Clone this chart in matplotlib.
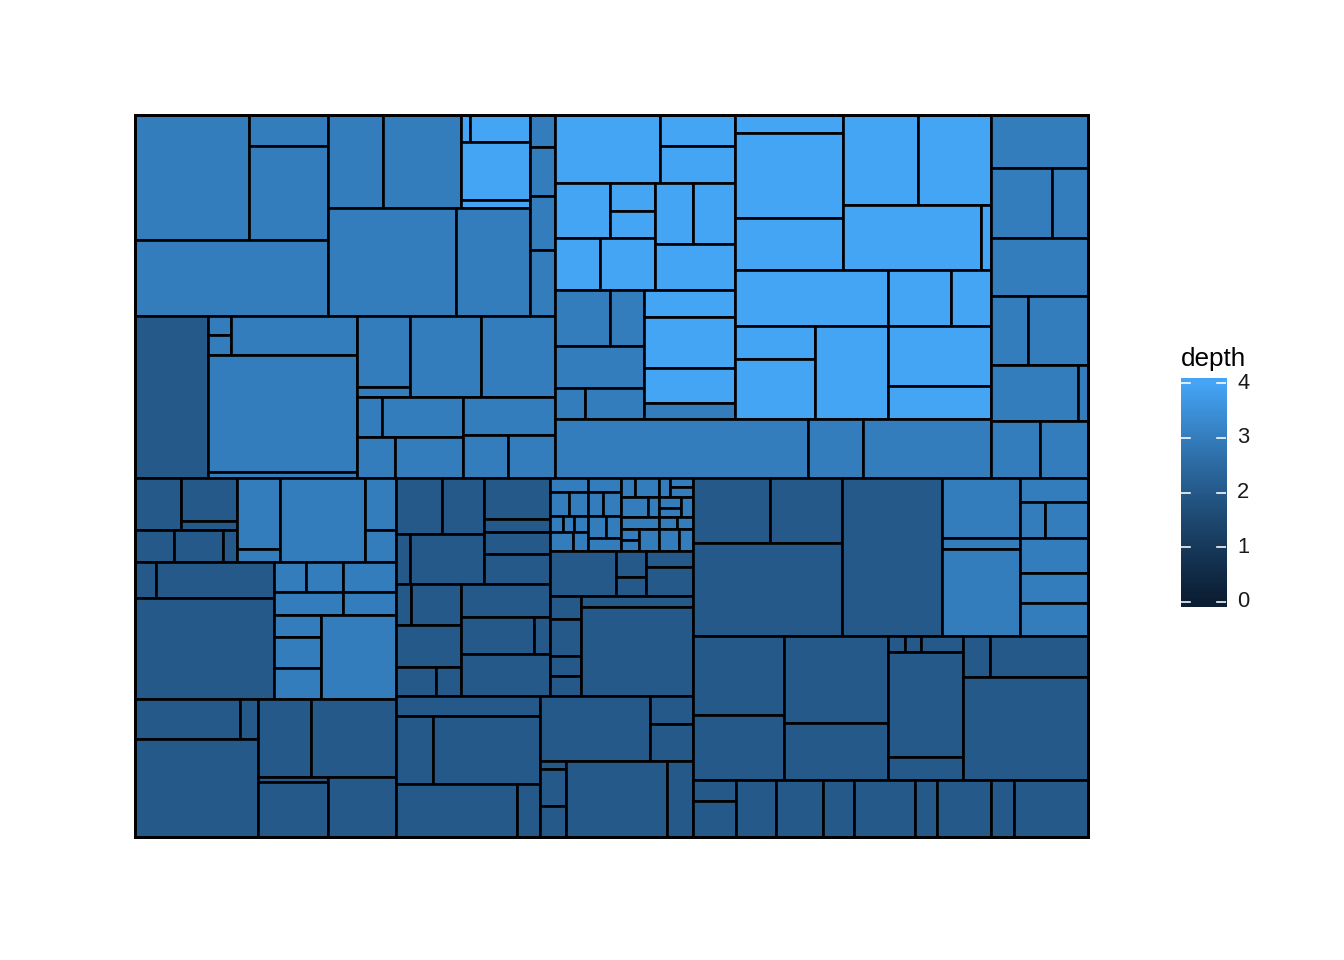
import numpy as np
import matplotlib
matplotlib.use("Agg")
import matplotlib.pyplot as plt
from matplotlib.patches import Rectangle
from matplotlib.colors import ListedColormap

# ---------------------------------------------------------------
# Treemap data. A leaf is (size, depth); a list groups its members,
# which the layout slices along the longer side of the group's box.
# ---------------------------------------------------------------
top_left = [
    [
        [
            [[(142.5, 3), [(24.5, 3), (74.3, 3)]], (146.7, 3)],
            [[(51.2, 3), (72.5, 3), [[(2.4, 4), (16.2, 4)], (40.0, 4), (5.5, 4)]],
             [(138.2, 3), (79.9, 3)]],
        ],
        [(8.0, 3), (12.3, 3), (13.5, 3), (16.5, 3)],
    ],
    [
        (118.3, 2),
        [[[(4.4, 3), (4.6, 3)], (49.1, 3)], (174.3, 3), (8.9, 3)],
        [
            [[(37.6, 3), (5.3, 3)], (57.5, 3), (59.9, 3)],
            [[[(10.0, 3), (32.4, 3)], [(15.6, 3), (27.9, 3)]],
             [(35.0, 3), [(19.4, 3), (20.2, 3)]]],
        ],
    ],
]

top_right = [
    [
        [
            [
                [(71.4, 4), [(23.6, 4), (28.1, 4)]],
                [[[(30.3, 4), [(12.6, 4), (12.2, 4)]], [(23.4, 4), (28.6, 4)]],
                 [[(23.2, 4), (26.2, 4)], (37.3, 4)]],
                [[[(30.3, 3), (18.7, 3)], (37.4, 3), [(9.3, 3), (18.3, 3)]],
                 [(24.8, 4), (46.0, 4), (32.2, 4), (14.7, 3)]],
            ],
            [
                [[(19.4, 4), (91.8, 4), (56.2, 4)],
                 [[(66.6, 4), (65.7, 4)], [(89.1, 4), (6.5, 4)]]],
                [(85.1, 4), (35.3, 4), (22.4, 4)],
                [[(26.4, 4), (48.0, 4)], (67.0, 4), [(61.8, 4), (34.0, 4)]],
            ],
        ],
        [(149.3, 3), (32.5, 3), (75.5, 3)],
    ],
    [
        (51.4, 3),
        [(42.7, 3), (25.2, 3)],
        (56.3, 3),
        [(25.5, 3), (41.4, 3)],
        [(48.7, 3), (5.6, 3)],
        [(27.9, 3), (27.4, 3)],
    ],
]

bottom_left = [
    [
        [[(23.9, 2), [(24.1, 2), (5.0, 2)]], [(12.8, 2), (15.7, 2), (4.2, 2)]],
        [(31.2, 3), (5.7, 3)],
        (70.6, 3),
        [(16.1, 3), (9.9, 3)],
    ],
    [
        [[(7.6, 2), (42.8, 2)], (141.4, 2)],
        [
            [[[(9.6, 3), (11.1, 3)], (15.9, 3)], [(15.6, 3), (12.0, 3)]],
            [[(10.3, 3), (14.6, 3), (14.6, 3)], (62.2, 3)],
        ],
    ],
    [
        [[(42.4, 2), (7.2, 2)], (121.5, 2)],
        [[(40.6, 2), (66.3, 2)], [[(3.5, 2), (38.0, 2)], (40.8, 2)]],
    ],
]

small_cells = [
    [
        [(5.3, 3), (4.6, 3)],
        [(4.6, 3), (4.6, 3), (3.6, 3), (4.3, 3)],
        [
            [[(2.1, 3), (1.8, 3), (2.2, 3)], [(4.6, 3), (2.7, 3)]],
            [[(4.0, 3), (3.3, 3)], (4.3, 3)],
        ],
    ],
    [
        [(2.7, 3), (4.6, 3), (2.1, 3), [(2.1, 3), (2.3, 3)]],
        [
            [[(5.4, 3), (2.2, 3)], (4.6, 3), [[(2.0, 3), (2.0, 3)], (4.4, 3)]],
            [[[(2.4, 3), (2.0, 3)], (2.4, 3)], [(2.2, 3), (1.9, 3)], [(4.6, 3), (2.9, 3)]],
        ],
    ],
]

bottom_mid = [
    [
        [
            [[[(25.8, 2), (23.5, 2)], [(7.0, 2), (37.0, 2)]],
             [(27.1, 2), (8.6, 2), (14.5, 2), (19.8, 2)]],
            [[[(6.2, 2), (20.9, 2)], (27.7, 2), [(11.6, 2), (7.5, 2)]],
             [(29.0, 2), [(27.0, 2), (5.6, 2)], (37.0, 2)]],
        ],
        [
            small_cells,
            [(29.7, 2), [(7.8, 2), (5.7, 2)], [(7.5, 2), (13.6, 2)]],
            [[(7.1, 2), (11.5, 2), (6.2, 2), (6.2, 2)], [(12.3, 2), (99.7, 2)]],
        ],
    ],
    [
        [(28.8, 2), [(25.8, 2), (72.1, 2)], [(64.1, 2), (12.2, 2)]],
        [[(71.5, 2), [(12.0, 2), (15.9, 2)]],
         [[(2.1, 2), (9.6, 2), (8.1, 2)], (76.8, 2), (19.8, 2)]],
    ],
]

bottom_right = [
    [
        [[(50.1, 2), (46.8, 2)], (138.6, 2)],
        (158.0, 2),
        [(46.8, 3), (8.6, 3), (67.9, 3)],
        [(16.3, 3), [(9.0, 3), (15.5, 3)], (23.8, 3), (20.4, 3), (22.4, 3)],
    ],
    [
        [(71.9, 2), (59.2, 2)],
        [(90.5, 2), (59.3, 2)],
        [[(2.7, 2), (2.7, 2), (6.6, 2)], (78.8, 2), (17.3, 2)],
        [[(11.1, 2), (40.2, 2)], (128.8, 2)],
    ],
    [
        [(9.0, 2), (15.5, 2)], (22.8, 2), (26.8, 2), (17.7, 2), (34.8, 2),
        (12.5, 2), (30.8, 2), (13.1, 2), (42.2, 2),
    ],
]

treemap = [[top_left, top_right], [bottom_left, bottom_mid, bottom_right]]

depth_breaks = [0, 1, 2, 3, 4]
depth_limits = (0, 4)
low_colour, high_colour = "#132B43", "#56B1F7"
tone_gamma = 1.2   # the reference rendering is a little darker than plain sRGB


# ---------------------------------------------------------------
# colour scale (Lab interpolation, like ggplot's default gradient)
# ---------------------------------------------------------------
def hex_to_rgb(h):
    h = h.lstrip("#")
    return np.array([int(h[i:i + 2], 16) / 255 for i in (0, 2, 4)])


M = np.array([[0.4124, 0.3576, 0.1805], [0.2126, 0.7152, 0.0722], [0.0193, 0.1192, 0.9505]])
Minv = np.linalg.inv(M)
WHITE = np.array([0.95047, 1.0, 1.08883])


def rgb_to_lab(c):
    lin = np.where(c <= 0.04045, c / 12.92, ((c + 0.055) / 1.055) ** 2.4)
    xyz = M @ lin / WHITE
    f = np.where(xyz > 0.008856, np.cbrt(xyz), 7.787 * xyz + 16 / 116)
    return np.array([116 * f[1] - 16, 500 * (f[0] - f[1]), 200 * (f[1] - f[2])])


def lab_to_rgb(lab):
    fy = (lab[0] + 16) / 116
    fx = fy + lab[1] / 500
    fz = fy - lab[2] / 200
    f = np.array([fx, fy, fz])
    xyz = np.where(f ** 3 > 0.008856, f ** 3, (f - 16 / 116) / 7.787) * WHITE
    lin = np.clip(Minv @ xyz, 0, 1)
    c = np.where(lin <= 0.0031308, 12.92 * lin, 1.055 * lin ** (1 / 2.4) - 0.055)
    return np.clip(c, 0, 1)


LAB_LO, LAB_HI = rgb_to_lab(hex_to_rgb(low_colour)), rgb_to_lab(hex_to_rgb(high_colour))


def depth_colour(d):
    t = (d - depth_limits[0]) / (depth_limits[1] - depth_limits[0])
    return lab_to_rgb(LAB_LO + t * (LAB_HI - LAB_LO)) ** tone_gamma


# ---------------------------------------------------------------
# layout
# ---------------------------------------------------------------
def weight(node):
    if isinstance(node, tuple):
        return node[0]
    return sum(weight(c) for c in node)


def layout(node, x0, y0, x1, y1, out):
    if isinstance(node, tuple):
        out.append((x0, y0, x1, y1, node[1]))
        return
    ws = [weight(c) for c in node]
    tot = sum(ws)
    if (x1 - x0) > (y1 - y0):
        x = x0
        for c, w in zip(node, ws):
            nx = x + (x1 - x0) * w / tot
            layout(c, x, y0, nx, y1, out)
            x = nx
    else:
        y = y1
        for c, w in zip(node, ws):
            ny = y - (y1 - y0) * w / tot
            layout(c, x0, ny, x1, y, out)
            y = ny


cells = []
layout(treemap, 0.0, 0.0, 1.0, 1.0, cells)

# ---------------------------------------------------------------
# drawing
# ---------------------------------------------------------------
plt.rcParams["font.family"] = ["Liberation Sans", "DejaVu Sans"]
fig = plt.figure(figsize=(7, 5), dpi=192, facecolor="white")
ax = fig.add_axes([134.5 / 1344, 1 - 836.7 / 960, 953.2 / 1344, 721.7 / 960])
ax.set_xlim(0, 1)
ax.set_ylim(0, 1)
ax.axis("off")

LW = 1.0
ax.add_patch(Rectangle((0, 0), 1, 1, facecolor=depth_colour(0), edgecolor="black",
                       lw=LW, clip_on=False, zorder=1))
for (x0, y0, x1, y1, d) in cells:
    ax.add_patch(Rectangle((x0, y0), x1 - x0, y1 - y0, facecolor=depth_colour(d),
                           edgecolor="black", lw=LW, clip_on=False, zorder=2))
ax.add_patch(Rectangle((0, 0), 1, 1, facecolor="none", edgecolor="black",
                       lw=LW * 1.1, clip_on=False, zorder=3))

# colour bar legend
cax = fig.add_axes([1181 / 1344, 1 - 607 / 960, 45 / 1344, 229 / 960])
lo, hi = depth_limits[0] - 0.1, depth_limits[1] + 0.1
vals = np.linspace(lo, hi, 300)
cmap = ListedColormap([depth_colour(v) for v in np.linspace(*depth_limits, 256)])
cax.imshow(vals.reshape(-1, 1), cmap=cmap, vmin=depth_limits[0], vmax=depth_limits[1],
           extent=[0, 1, lo, hi], origin="lower", aspect="auto", interpolation="bilinear")
cax.set_xlim(0, 1)
cax.set_ylim(lo, hi)
cax.axis("off")
for b in depth_breaks:
    cax.plot([0, 0.2], [b, b], color="white", lw=0.6)
    cax.plot([0.8, 1.0], [b, b], color="white", lw=0.6)
    cax.text(1.25, b, str(b), ha="left", va="center", fontsize=8.2, color="#1a1a1a",
             clip_on=False)
fig.text(1181 / 1344, 1 - 366 / 960, "depth", ha="left", va="baseline", fontsize=9.8,
         color="black")

fig.savefig("out.png", dpi=192, facecolor="white")
